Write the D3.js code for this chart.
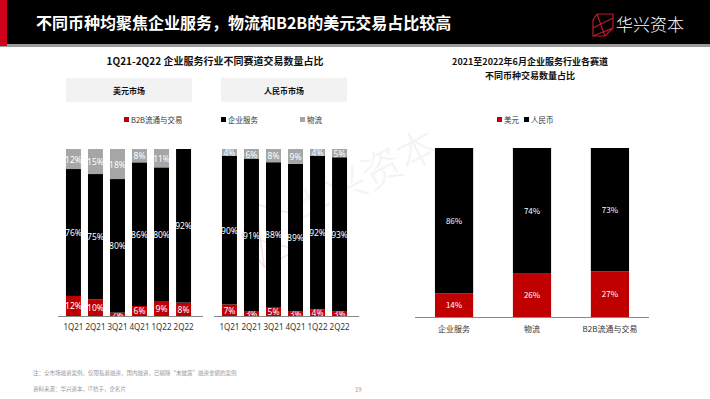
<!DOCTYPE html>
<html>
<head>
<meta charset="utf-8">
<script src="https://cdn.jsdelivr.net/npm/d3@7"></script>
<style>
  body { margin: 0; background: #fff; }
  svg { display: block; font-family: "Noto Sans CJK SC", "Noto Sans", sans-serif; }
</style>
</head>
<body>
<div id="chart-area"></div>
<script>
// quarters and series
const quarters = ["1Q21", "2Q21", "3Q21", "4Q21", "1Q22", "2Q22"]
const seriesNames = ["B2B流通与交易", "企业服务", "物流"]
const usdB2B = [12, 10, 2, 6, 9, 8]
const usdEnt = [76, 75, 80, 86, 80, 92]
const usdLog = [12, 15, 18, 8, 11, 0]
const rmbB2B = [7, 3, 5, 3, 4, 3]
const rmbEnt = [90, 91, 88, 89, 92, 93]
const rmbLog = [4, 6, 8, 9, 4, 5]

const tracks = ["企业服务", "物流", "B2B流通与交易"]
const currencyNames = ["美元", "人民币"]
const trackUsd = [14, 26, 27]
const trackRmb = [86, 74, 73]

const RED = "#c00000", BLACK = "#000000", GREY = "#a6a6a6"
const W = 710, H = 399

const svg = d3.select("#chart-area").append("svg")
  .attr("width", W)
  .attr("height", H)

// header
svg.append("rect").attr("x", 0).attr("y", 0).attr("width", W).attr("height", 44).attr("fill", "#000")
svg.append("rect").attr("x", 0).attr("y", 44).attr("width", W).attr("height", 3).attr("fill", "#9a9a9a")
svg.append("rect").attr("x", 0).attr("y", 0).attr("width", 7).attr("height", 46).attr("fill", "#d0021b")
svg.append("text")
  .attr("x", 36).attr("y", 29)
  .attr("fill", "#fff").attr("font-size", "16px").attr("font-weight", "bold")
  .text("不同币种均聚焦企业服务，物流和B2B的美元交易占比较高")

// logo
const logo = svg.append("g").attr("transform", "translate(593,14)")
logo.append("path")
  .attr("d", "M4,0 L20,0 L20,14 L12,22 L0,22 L0,6 Z M4,0 L12,22 M0,14 L20,4 M0,22 L20,14")
  .attr("fill", "none").attr("stroke", "#c0192c").attr("stroke-width", 1.2)
svg.append("text")
  .attr("x", 616).attr("y", 31)
  .attr("fill", "#fff").attr("font-size", "17px").attr("font-weight", 300)
  .text("华兴资本")

// watermark
const wm = svg.append("g").attr("transform", "translate(300,228) rotate(-28)").attr("opacity", 0.3)
wm.append("path")
  .attr("d", "M-55,-20 L-28,-42 L-2,-18 L-12,18 L-50,18 Z M-55,-20 L-12,18 M-28,-42 L-50,18")
  .attr("fill", "none").attr("stroke", "#e89a9a").attr("stroke-width", 1.5)
wm.append("text")
  .attr("x", 0).attr("y", 0)
  .attr("fill", "#d8d8d8").attr("font-size", "40px").attr("font-weight", 300)
  .text("华兴资本")

// left chart title, boxes, legend
svg.append("text")
  .attr("x", 215).attr("y", 65).attr("text-anchor", "middle")
  .attr("font-size", "10px").attr("font-weight", "bold").attr("fill", "#111")
  .text("1Q21-2Q22 企业服务行业不同赛道交易数量占比")

const boxes = [{label: "美元市场", x: 66}, {label: "人民币市场", x: 221}]
boxes.forEach(b => {
  svg.append("rect").attr("x", b.x).attr("y", 78).attr("width", 126).attr("height", 24).attr("fill", "#f2f2f2")
  svg.append("text")
    .attr("x", b.x + 63).attr("y", 93.5).attr("text-anchor", "middle")
    .attr("font-size", "8px").attr("font-weight", "bold").attr("fill", "#111")
    .text(b.label)
})

const colors = d3.scaleOrdinal().domain(seriesNames).range([RED, BLACK, GREY])

const legendLeft = [{x: 124}, {x: 221}, {x: 300}]
seriesNames.forEach((s, i) => {
  svg.append("rect").attr("x", legendLeft[i].x).attr("y", 117).attr("width", 5).attr("height", 5).attr("fill", colors(s))
  svg.append("text")
    .attr("x", legendLeft[i].x + 7).attr("y", 122.5)
    .attr("font-size", "7.5px").attr("fill", "#333")
    .text(s)
})

// stacked bars for one market
const yLeft = d3.scaleLinear().domain([0, 1]).range([316, 149])

function drawMarket (b2b, ent, log, r0) {
  const data = quarters.map((q, i) => ({q: q, "B2B流通与交易": b2b[i], "企业服务": ent[i], "物流": log[i]}))
  const stack = d3.stack().keys(seriesNames).offset(d3.stackOffsetExpand)(data)

  const x = d3.scaleBand()
    .domain(quarters)
    .range([r0, r0 + 133])
    .paddingInner(0.32)
    .paddingOuter(0.18)

  const g = svg.append("g")
  stack.forEach(layer => {
    g.selectAll(null).data(layer).enter().append("rect")
      .attr("x", d => x(d.data.q))
      .attr("width", x.bandwidth())
      .attr("y", d => yLeft(d[1]))
      .attr("height", d => yLeft(d[0]) - yLeft(d[1]))
      .attr("fill", colors(layer.key))

    g.selectAll(null).data(layer.filter(d => d.data[layer.key] > 0)).enter().append("text")
      .attr("x", d => x(d.data.q) + x.bandwidth() / 2)
      .attr("y", d => Math.min((yLeft(d[0]) + yLeft(d[1])) / 2 + 3.5, 318))
      .attr("text-anchor", "middle")
      .attr("font-size", "8.5px")
      .attr("fill", "#fff")
      .style("font-family", "'Noto Sans', sans-serif")
      .text(d => d.data[layer.key] + "%")
  })

  const axis = svg.append("g")
    .attr("transform", `translate(0, 316)`)
    .call(d3.axisBottom(x).tickSize(0).tickPadding(8))
  axis.select(".domain").attr("d", `M${r0 - 4},0.5H${r0 + 141}`).attr("stroke", "#888")
  axis.selectAll("text").attr("font-size", "8px").attr("fill", "#333")
    .style("font-family", "'Noto Sans', sans-serif")
}

drawMarket(usdB2B, usdEnt, usdLog, 62)
drawMarket(rmbB2B, rmbEnt, rmbLog, 218)

// right chart
svg.append("text")
  .attr("x", 530).attr("y", 65).attr("text-anchor", "middle")
  .attr("font-size", "9px").attr("font-weight", "bold").attr("fill", "#111")
  .text("2021至2022年6月企业服务行业各赛道")
svg.append("text")
  .attr("x", 530).attr("y", 79).attr("text-anchor", "middle")
  .attr("font-size", "9px").attr("font-weight", "bold").attr("fill", "#111")
  .text("不同币种交易数量占比")

const colors2 = d3.scaleOrdinal().domain(currencyNames).range([RED, BLACK])
const legendRight = [{x: 497}, {x: 524}]
currencyNames.forEach((s, i) => {
  svg.append("rect").attr("x", legendRight[i].x).attr("y", 117).attr("width", 5).attr("height", 5).attr("fill", colors2(s))
  svg.append("text")
    .attr("x", legendRight[i].x + 7).attr("y", 122.5)
    .attr("font-size", "7.5px").attr("fill", "#333")
    .text(s)
})

const data2 = tracks.map((t, i) => ({t: t, "美元": trackUsd[i], "人民币": trackRmb[i]}))
const stack2 = d3.stack().keys(currencyNames).offset(d3.stackOffsetExpand)(data2)

const x2 = d3.scaleBand()
  .domain(tracks)
  .range([415, 649])
  .paddingInner(0.51)
  .paddingOuter(0.256)
const y2 = d3.scaleLinear().domain([0, 1]).range([317, 148])

const g2 = svg.append("g")
stack2.forEach(layer => {
  g2.selectAll(null).data(layer).enter().append("rect")
    .attr("x", d => x2(d.data.t))
    .attr("width", x2.bandwidth())
    .attr("y", d => y2(d[1]))
    .attr("height", d => y2(d[0]) - y2(d[1]))
    .attr("fill", colors2(layer.key))

  g2.selectAll(null).data(layer).enter().append("text")
    .attr("x", d => x2(d.data.t) + x2.bandwidth() / 2)
    .attr("y", d => (y2(d[0]) + y2(d[1])) / 2 + 3)
    .attr("text-anchor", "middle")
    .attr("font-size", "8px")
    .attr("fill", "#fff")
    .text(d => d.data[layer.key] + "%")
})

const axis2 = svg.append("g")
  .attr("transform", `translate(0, 317)`)
  .call(d3.axisBottom(x2).tickSize(0).tickPadding(9))
axis2.select(".domain").attr("d", "M415,0.5H649").attr("stroke", "#888")
axis2.selectAll("text").attr("font-size", "8px").attr("fill", "#333")
  .style("font-family", "'Noto Sans CJK SC', sans-serif")

// footer
svg.append("text")
  .attr("x", 33).attr("y", 375)
  .attr("font-size", "5.5px").attr("fill", "#999")
  .text("注：全市场融资案例，仅限私募融资，国内融资，已剔除“未披露”融资金额的案例")
svg.append("text")
  .attr("x", 33).attr("y", 391)
  .attr("font-size", "5.5px").attr("fill", "#999")
  .text("资料来源：华兴资本，IT桔子，企名片")
svg.append("text")
  .attr("x", 355).attr("y", 392)
  .attr("font-size", "6px").attr("fill", "#999")
  .text("19")
</script>
</body>
</html>
